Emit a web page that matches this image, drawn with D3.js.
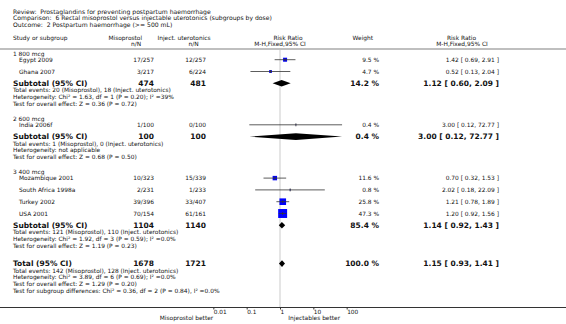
<!DOCTYPE html>
<html>
<head>
<meta charset="utf-8">
<style>
  body { margin: 0; background: #fff; }
  svg text { font-family: "DejaVu Sans", Verdana, sans-serif; fill: #111; white-space: pre; }
</style>
</head>
<body>
<svg></svg>
<script src="https://cdnjs.cloudflare.com/ajax/libs/d3/7.8.5/d3.min.js"></script>
<script>
// header text
const titleLines = [
  'Review:  Prostaglandins for preventing postpartum haemorrhage',
  'Comparison:  6 Rectal misoprostol versus injectable uterotonics (subgroups by dose)',
  'Outcome:  2 Postpartum haemorrhage (>= 500 mL)'
];

// subgroups
const groupNames = ['1 800 mcg', '2 600 mcg', '3 400 mcg'];
const groupMisoTotal = [474, 100, 1104];
const groupInjTotal = [481, 100, 1140];
const groupWeight = [14.2, 0.4, 85.4];
const groupRR = [1.12, 3.00, 1.14];
const groupLo = [0.60, 0.12, 0.92];
const groupHi = [2.09, 72.77, 1.43];
const groupInfo = [
  ['Total events: 20 (Misoprostol), 18 (Inject. uterotonics)',
   'Heterogeneity: Chi\u00b2 = 1.63, df = 1 (P = 0.20); I\u00b2 =39%',
   'Test for overall effect: Z = 0.36 (P = 0.72)'],
  ['Total events: 1 (Misoprostol), 0 (Inject. uterotonics)',
   'Heterogeneity: not applicable',
   'Test for overall effect: Z = 0.68 (P = 0.50)'],
  ['Total events: 121 (Misoprostol), 110 (Inject. uterotonics)',
   'Heterogeneity: Chi\u00b2 = 1.92, df = 3 (P = 0.59); I\u00b2 =0.0%',
   'Test for overall effect: Z = 1.19 (P = 0.23)']
];

// studies
const studyNames = ['Egypt 2009', 'Ghana 2007', 'India 2006f', 'Mozambique 2001', 'South Africa 1998a', 'Turkey 2002', 'USA 2001'];
const studyGroup = [0, 0, 1, 2, 2, 2, 2];
const studyMiso = ['17/257', '3/217', '1/100', '10/323', '2/231', '39/396', '70/154'];
const studyInj = ['12/257', '6/224', '0/100', '15/339', '1/233', '33/407', '61/161'];
const studyWeight = [9.5, 4.7, 0.4, 11.6, 0.8, 25.8, 47.3];
const studyRR = [1.42, 0.52, 3.00, 0.70, 2.02, 1.21, 1.20];
const studyLo = [0.69, 0.13, 0.12, 0.32, 0.18, 0.78, 0.92];
const studyHi = [2.91, 2.04, 72.77, 1.53, 22.09, 1.89, 1.56];

// overall
const totalMiso = 1678, totalInj = 1721, totalWeight = 100.0;
const totalRR = 1.15, totalLo = 0.93, totalHi = 1.41;
const totalInfo = [
  'Total events: 142 (Misoprostol), 128 (Inject. uterotonics)',
  'Heterogeneity: Chi\u00b2 = 3.89, df = 6 (P = 0.69); I\u00b2 =0.0%',
  'Test for overall effect: Z = 1.29 (P = 0.20)',
  'Test for subgroup differences: Chi\u00b2 = 0.36, df = 2 (P = 0.84), I\u00b2 =0.0%'
];
const axisTicks = [0.01, 0.1, 1, 10, 100];

const width = 566, height = 324;
const svg = d3.select('svg').attr('width', width).attr('height', height);

const x = d3.scaleLog().domain([0.001, 1000]).range([180, 380]);
const boxSize = d3.scaleSqrt().domain([0, 50]).range([0, 9.2]);

const colName = 13, colStudy = 19, colMiso = 154, colInj = 206, colWeight = 379, colRR = 499;
const small = 5.9, bold = 7.5;

const fmt2 = d3.format('.2f');
const rrText = (r, l, h) => fmt2(r) + ' [ ' + fmt2(l) + ', ' + fmt2(h) + ' ]';
const wText = w => d3.format('.1f')(w) + ' %';

function text(xp, yp, s, size, anchor, weight) {
  return svg.append('text')
    .attr('x', xp).attr('y', yp).attr('dy', '0.36em')
    .attr('font-size', size)
    .attr('text-anchor', anchor || 'start')
    .attr('font-weight', weight || 'normal')
    .text(s);
}

// title block
titleLines.forEach((t, i) => text(colName, 11.6 + i * 6.4, t, 6.1));

// column headers
text(colName, 38, 'Study or subgroup', small);
text(125.3, 38, 'Misoprostol', small, 'middle');
text(136, 44, 'n/N', small, 'middle');
text(184, 38, 'Inject. uterotonics', small, 'middle');
text(193.5, 44, 'n/N', small, 'middle');
text(288, 37.5, 'Risk Ratio', small, 'middle');
text(280, 44, 'M-H,Fixed,95% CI', small, 'middle');
text(362.8, 38, 'Weight', small, 'middle');
text(461.5, 37.5, 'Risk Ratio', small, 'middle');
text(462, 44, 'M-H,Fixed,95% CI', small, 'middle');

svg.append('line').attr('x1', 0).attr('x2', width).attr('y1', 49).attr('y2', 49)
  .attr('stroke', '#aaa').attr('stroke-width', 1.6);

// line of no effect
const axisY = 307.5;
svg.append('line').attr('x1', x(1)).attr('x2', x(1)).attr('y1', 50).attr('y2', axisY)
  .attr('stroke', '#ddd').attr('stroke-width', 1.5);

const plot = svg.append('g');

function diamond(yp, r, l, h, hh) {
  plot.append('path')
    .attr('d', 'M' + x(l) + ',' + yp + 'L' + x(r) + ',' + (yp - hh / 2) +
               'L' + x(h) + ',' + yp + 'L' + x(r) + ',' + (yp + hh / 2) + 'Z')
    .attr('fill', '#000');
}

// layout
let y = 53.5;
groupNames.forEach((g, gi) => {
  text(colName, y, g, small);
  y += 6.2;
  studyNames.forEach((name, i) => {
    if (studyGroup[i] !== gi) return;
    text(colStudy, y, name, small);
    text(colMiso, y, studyMiso[i], small, 'end');
    text(colInj, y, studyInj[i], small, 'end');
    text(colWeight, y, wText(studyWeight[i]), small, 'end');
    text(colRR, y, rrText(studyRR[i], studyLo[i], studyHi[i]), small, 'end');
    const s = boxSize(studyWeight[i]);
    plot.append('rect')
      .attr('x', x(studyRR[i]) - s / 2).attr('y', y - s / 2)
      .attr('width', s).attr('height', s)
      .attr('fill', '#0000ff');
    plot.append('line')
      .attr('x1', x(studyLo[i])).attr('x2', x(studyHi[i]))
      .attr('y1', y).attr('y2', y)
      .attr('stroke', '#333').attr('stroke-width', 0.8);
    plot.append('line')
      .attr('x1', x(studyRR[i])).attr('x2', x(studyRR[i]))
      .attr('y1', y - 1.5).attr('y2', y + 1.5)
      .attr('stroke', '#333').attr('stroke-width', 0.8);
    y += 11.8;
  });
  text(colName, y, 'Subtotal (95% CI)', bold, 'start', 'bold');
  text(colMiso, y, groupMisoTotal[gi], bold, 'end', 'bold');
  text(colInj, y, groupInjTotal[gi], bold, 'end', 'bold');
  text(colWeight, y, wText(groupWeight[gi]), bold, 'end', 'bold');
  text(colRR, y, rrText(groupRR[gi], groupLo[gi], groupHi[gi]), bold, 'end', 'bold');
  diamond(y, groupRR[gi], groupLo[gi], groupHi[gi], 6.6);
  y += 6.9;
  groupInfo[gi].forEach((t, k) => {
    text(colName, y, t, small);
    if (k < groupInfo[gi].length - 1) y += 6.7;
  });
  y += 15;
});

y += 3;
text(colName, y, 'Total (95% CI)', bold, 'start', 'bold');
text(colMiso, y, totalMiso, bold, 'end', 'bold');
text(colInj, y, totalInj, bold, 'end', 'bold');
text(colWeight, y, wText(totalWeight), bold, 'end', 'bold');
text(colRR, y, rrText(totalRR, totalLo, totalHi), bold, 'end', 'bold');
diamond(y, totalRR, totalLo, totalHi, 6.6);
y += 7;
totalInfo.forEach(t => { text(colName, y, t, small); y += 6.7; });

// axis
svg.append('line').attr('x1', 0).attr('x2', width).attr('y1', axisY).attr('y2', axisY)
  .attr('stroke', '#333').attr('stroke-width', 1);
const ax = svg.append('g').attr('transform', 'translate(0,' + axisY + ')')
  .call(d3.axisBottom(x).tickValues(axisTicks).tickFormat(d => String(d)).tickSize(2).tickPadding(0.5));
ax.select('.domain').remove();
ax.selectAll('line').attr('stroke', '#333');
ax.selectAll('text')
  .attr('text-anchor', 'start')
  .attr('font-size', 5.8)
  .attr('font-family', '"DejaVu Sans", Verdana, sans-serif')
  .attr('fill', '#111');

text(213.3, 318.3, 'Misoprostol better', small, 'end');
text(288.3, 318.3, 'Injectables better', small, 'start');
</script>
</body>
</html>
